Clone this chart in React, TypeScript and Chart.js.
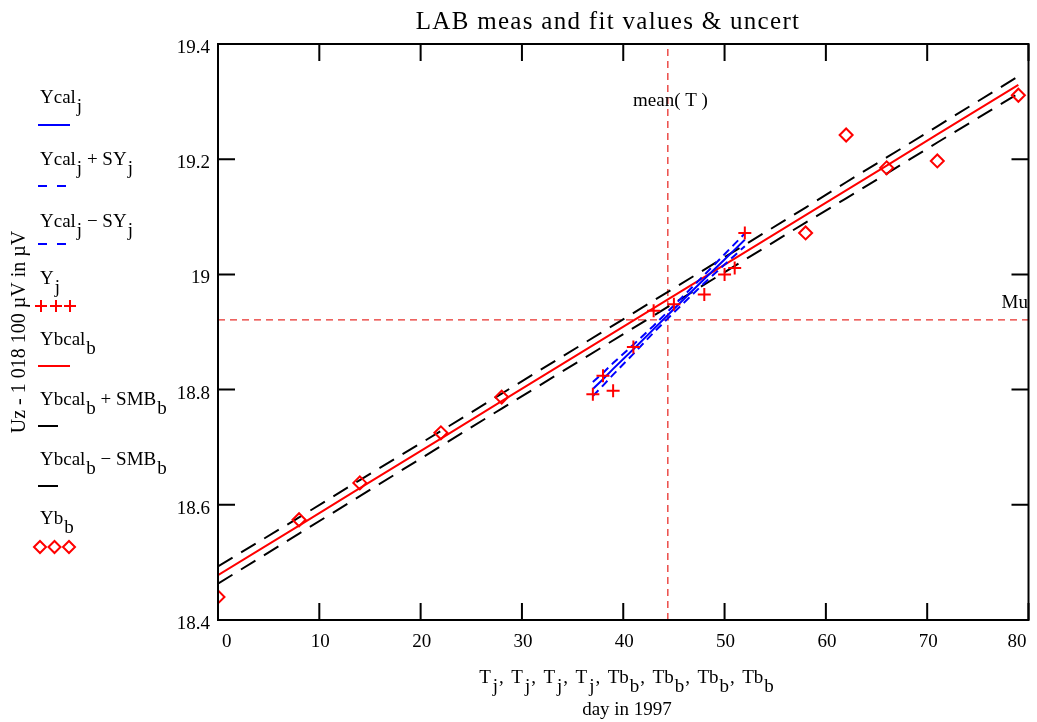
import React, { useEffect, useRef } from "react";
import { Chart, registerables } from "chart.js";
Chart.register(...registerables);

const FONT = '"Liberation Serif", "Times New Roman", serif';

// measured series (j)
const Tj = [37, 38, 39, 41, 43, 45, 48, 50, 51, 52];
const Yj = [18.792, 18.824, 18.798, 18.874, 18.937, 18.948, 18.965, 19.0, 19.011, 19.072];
const Ycal = [18.801, 18.818, 18.836, 18.87, 18.905, 18.94, 18.992, 19.026, 19.043, 19.06];
const SY = [0.012, 0.011, 0.01, 0.008, 0.006, 0.006, 0.007, 0.009, 0.01, 0.011];
// series (b)
const Tb = [0, 8, 14, 22, 28, 58, 62, 66, 71, 79];
const Yb = [18.44, 18.574, 18.638, 18.725, 18.787, 19.072, 19.242, 19.185, 19.197, 19.311];
const Ybcal = [18.478, 18.564, 18.629, 18.715, 18.78, 19.103, 19.146, 19.189, 19.243, 19.329];
const SMB = [0.015, 0.014, 0.014, 0.013, 0.013, 0.013, 0.014, 0.014, 0.014, 0.015];
// reference lines
const meanT = 44.4;
const Mu = 18.921;
// axes
const X_MIN = 0, X_MAX = 80, X_STEP = 10;
const Y_MIN = 18.4, Y_MAX = 19.4, Y_STEP = 0.2;

const TITLE = "LAB meas and fit values & uncert";
const Y_TITLE = "Uz - 1 018 100 \u00B5V in \u00B5V";
const X_TITLE2 = "day in 1997";

type Part = { t: string; s?: boolean; g?: number };
const SUBDY = 9;

function rich(ctx: CanvasRenderingContext2D, x: number, y: number, parts: Part[], size: number, align = "left") {
  ctx.font = `${size}px ${FONT}`;
  let w = 0;
  for (const p of parts) w += ctx.measureText(p.t).width + (p.g || 0);
  let cx = align === "center" ? x - w / 2 : x;
  ctx.textAlign = "left";
  ctx.textBaseline = "alphabetic";
  for (const p of parts) {
    ctx.fillText(p.t, cx, y + (p.s ? SUBDY : 0));
    cx += ctx.measureText(p.t).width + (p.g || 0);
  }
}

const legendItems: { parts: Part[]; kind: string }[] = [
  { parts: [{ t: "Ycal", g: 1 }, { t: "j", s: true }], kind: "blueSolid" },
  { parts: [{ t: "Ycal", g: 1 }, { t: "j", s: true }, { t: " + SY", g: 1 }, { t: "j", s: true }], kind: "blueDash" },
  { parts: [{ t: "Ycal", g: 1 }, { t: "j", s: true }, { t: " \u2212 SY", g: 1 }, { t: "j", s: true }], kind: "blueDash" },
  { parts: [{ t: "Y", g: 1 }, { t: "j", s: true }], kind: "cross" },
  { parts: [{ t: "Ybcal", g: 1 }, { t: "b", s: true }], kind: "redSolid" },
  { parts: [{ t: "Ybcal", g: 1 }, { t: "b", s: true }, { t: " + SMB", g: 1 }, { t: "b", s: true }], kind: "black" },
  { parts: [{ t: "Ybcal", g: 1 }, { t: "b", s: true }, { t: " \u2212 SMB", g: 1 }, { t: "b", s: true }], kind: "black" },
  { parts: [{ t: "Yb", g: 1 }, { t: "b", s: true }], kind: "diamond" },
];
const legendBase = [103, 165, 227, 284, 345, 405, 465, 524];
const legendSample = [125, 186, 244, 306, 366, 426, 486, 547];

const decor = {
  id: "decor",
  afterDraw(chart: any) {
    const ctx: CanvasRenderingContext2D = chart.ctx;
    const { left, right, top, bottom } = chart.chartArea;
    const xs = chart.scales.x, ys = chart.scales.y;
    ctx.save();
    ctx.strokeStyle = "#000";
    ctx.lineWidth = 2;
    ctx.setLineDash([]);
    ctx.strokeRect(left, top, right - left, bottom - top);
    const TL = 17;
    ctx.beginPath();
    xs.ticks.forEach((t: any) => {
      const px = xs.getPixelForValue(t.value);
      ctx.moveTo(px, bottom); ctx.lineTo(px, bottom - TL);
      ctx.moveTo(px, top); ctx.lineTo(px, top + TL);
    });
    ys.ticks.forEach((t: any) => {
      const py = ys.getPixelForValue(t.value);
      ctx.moveTo(left, py); ctx.lineTo(left + TL, py);
      ctx.moveTo(right, py); ctx.lineTo(right - TL, py);
    });
    ctx.stroke();

    ctx.fillStyle = "#000";
    // x tick labels (from the x scale's ticks)
    ctx.font = `19px ${FONT}`;
    ctx.textBaseline = "top";
    const n = xs.ticks.length;
    xs.ticks.forEach((t: any, i: number) => {
      const px = xs.getPixelForValue(t.value);
      const lab = String(t.value);
      if (i === 0) { ctx.textAlign = "left"; ctx.fillText(lab, px + 4, bottom + 13); }
      else if (i === n - 1) { ctx.textAlign = "right"; ctx.fillText(lab, px - 2, bottom + 13); }
      else { ctx.textAlign = "center"; ctx.fillText(lab, px + 1, bottom + 13); }
    });
    ctx.textBaseline = "alphabetic";

    // title
    ctx.font = `25px ${FONT}`;
    (ctx as any).letterSpacing = "1.3px";
    ctx.textAlign = "center";
    ctx.fillText(TITLE, 608, 29);
    (ctx as any).letterSpacing = "0px";

    // annotations
    ctx.font = `19px ${FONT}`;
    ctx.textAlign = "left";
    ctx.fillText("mean( T )", 633, 106);
    ctx.textAlign = "right";
    ctx.fillText("Mu", 1028, 308);

    // y title
    ctx.save();
    ctx.translate(25, (top + bottom) / 2);
    ctx.rotate(-Math.PI / 2);
    ctx.font = `20px ${FONT}`;
    ctx.textAlign = "center";
    ctx.fillText(Y_TITLE, 0, 0);
    ctx.restore();

    // x title
    const xp: Part[] = [];
    for (let k = 0; k < 4; k++) xp.push({ t: "T", g: 2 }, { t: "j", s: true, g: 1 }, { t: ",", g: 7.5 });
    for (let k = 0; k < 4; k++) {
      xp.push({ t: "Tb", g: 1 }, { t: "b", s: true, g: 1 });
      if (k < 3) xp.push({ t: ",", g: 7.5 });
    }
    rich(ctx, 627, 683, xp, 19, "center");
    ctx.font = `19px ${FONT}`;
    ctx.textAlign = "center";
    ctx.fillText(X_TITLE2, 627, 715);

    // legend
    legendItems.forEach((it, i) => {
      ctx.fillStyle = "#000";
      rich(ctx, 40, legendBase[i], it.parts, 19);
      const sy = legendSample[i];
      ctx.lineWidth = 2;
      ctx.setLineDash([]);
      if (it.kind === "blueSolid" || it.kind === "redSolid") {
        ctx.strokeStyle = it.kind === "blueSolid" ? "#0000ff" : "#ff0000";
        ctx.beginPath(); ctx.moveTo(38, sy); ctx.lineTo(70, sy); ctx.stroke();
      } else if (it.kind === "blueDash") {
        ctx.strokeStyle = "#0000ff";
        ctx.beginPath();
        ctx.moveTo(38, sy); ctx.lineTo(47, sy);
        ctx.moveTo(57, sy); ctx.lineTo(66, sy);
        ctx.stroke();
      } else if (it.kind === "black") {
        ctx.strokeStyle = "#000";
        ctx.beginPath(); ctx.moveTo(38, sy); ctx.lineTo(58, sy); ctx.stroke();
      } else if (it.kind === "cross") {
        ctx.strokeStyle = "#ff0000";
        ctx.beginPath();
        [41, 56, 70].forEach((cx) => {
          ctx.moveTo(cx - 6, sy); ctx.lineTo(cx + 6, sy);
          ctx.moveTo(cx, sy - 6); ctx.lineTo(cx, sy + 6);
        });
        ctx.stroke();
      } else if (it.kind === "diamond") {
        ctx.strokeStyle = "#ff0000";
        [40, 54.5, 69].forEach((cx) => {
          ctx.beginPath();
          ctx.moveTo(cx - 6, sy); ctx.lineTo(cx, sy - 6); ctx.lineTo(cx + 6, sy); ctx.lineTo(cx, sy + 6);
          ctx.closePath(); ctx.stroke();
        });
      }
    });
    ctx.restore();
  },
};

export default function App() {
  const ref = useRef<HTMLCanvasElement>(null);
  useEffect(() => {
    const pts = (xs: number[], ys: number[]) => xs.map((x, i) => ({ x, y: ys[i] }));
    const line = (label: string, data: any[], color: string, dash: number[] = [], width = 2) => ({
      label, data, borderColor: color, backgroundColor: color, borderWidth: width, borderDash: dash,
      pointRadius: 0, showLine: true, tension: 0, fill: false,
    });
    const zeroPad = (s: any) => { s.paddingLeft = 0; s.paddingRight = 0; s.paddingTop = 0; s.paddingBottom = 0; };
    const chart = new Chart(ref.current!, {
      type: "scatter",
      data: {
        datasets: [
          {
            label: "Y", data: pts(Tj, Yj), pointStyle: "cross", pointRadius: 6.5, borderColor: "#ff0000",
            borderWidth: 2, showLine: false,
          } as any,
          {
            label: "Yb", data: pts(Tb, Yb), pointStyle: "rectRot", pointRadius: 6.5, borderColor: "#ff0000",
            backgroundColor: "rgba(0,0,0,0)", borderWidth: 2, showLine: false,
          } as any,
          line("Ycal", pts(Tj, Ycal), "#0000ff"),
          line("Ycal+SY", pts(Tj, Ycal.map((v, i) => v + SY[i])), "#0000ff", [8, 5]),
          line("Ycal-SY", pts(Tj, Ycal.map((v, i) => v - SY[i])), "#0000ff", [8, 5]),
          line("Ybcal", pts(Tb, Ybcal), "#ff0000"),
          line("Ybcal+SMB", pts(Tb, Ybcal.map((v, i) => v + SMB[i])), "#000000", [17, 10]),
          line("Ybcal-SMB", pts(Tb, Ybcal.map((v, i) => v - SMB[i])), "#000000", [17, 10]),
          line("meanT", [{ x: meanT, y: Y_MIN }, { x: meanT, y: Y_MAX }], "#e8302c", [7, 5], 1.3),
          line("Mu", [{ x: X_MIN, y: Mu }, { x: X_MAX, y: Mu }], "#e8302c", [7, 5], 1.3),
        ],
      },
      options: {
        responsive: false,
        animation: false,
        events: [],
        layout: { padding: { left: 0, top: 44, right: 5, bottom: 0 } },
        plugins: { legend: { display: false }, tooltip: { enabled: false }, title: { display: false } },
        scales: {
          x: {
            type: "linear", min: X_MIN, max: X_MAX,
            ticks: { stepSize: X_STEP, display: false },
            grid: { display: false, drawTicks: false, tickLength: 0 },
            border: { display: false },
            afterFit: (s: any) => { s.height = 102; zeroPad(s); },
          },
          y: {
            type: "linear", min: Y_MIN, max: Y_MAX,
            ticks: {
              stepSize: Y_STEP, padding: 8, labelOffset: 4, color: "#000", font: { family: FONT, size: 19 },
              callback: (v: any) => String(Number(Number(v).toFixed(1))),
            },
            grid: { display: false, drawTicks: false, tickLength: 0 },
            border: { display: false },
            afterFit: (s: any) => { s.width = 218; zeroPad(s); },
          },
        },
      } as any,
      plugins: [decor],
    });
    return () => chart.destroy();
  }, []);
  return (
    <div style={{ position: "absolute", left: 0, top: 0, width: 1037, height: 722, background: "#fff" }}>
      <canvas ref={ref} width={1037} height={722} style={{ width: 1037, height: 722 }} />
    </div>
  );
}
